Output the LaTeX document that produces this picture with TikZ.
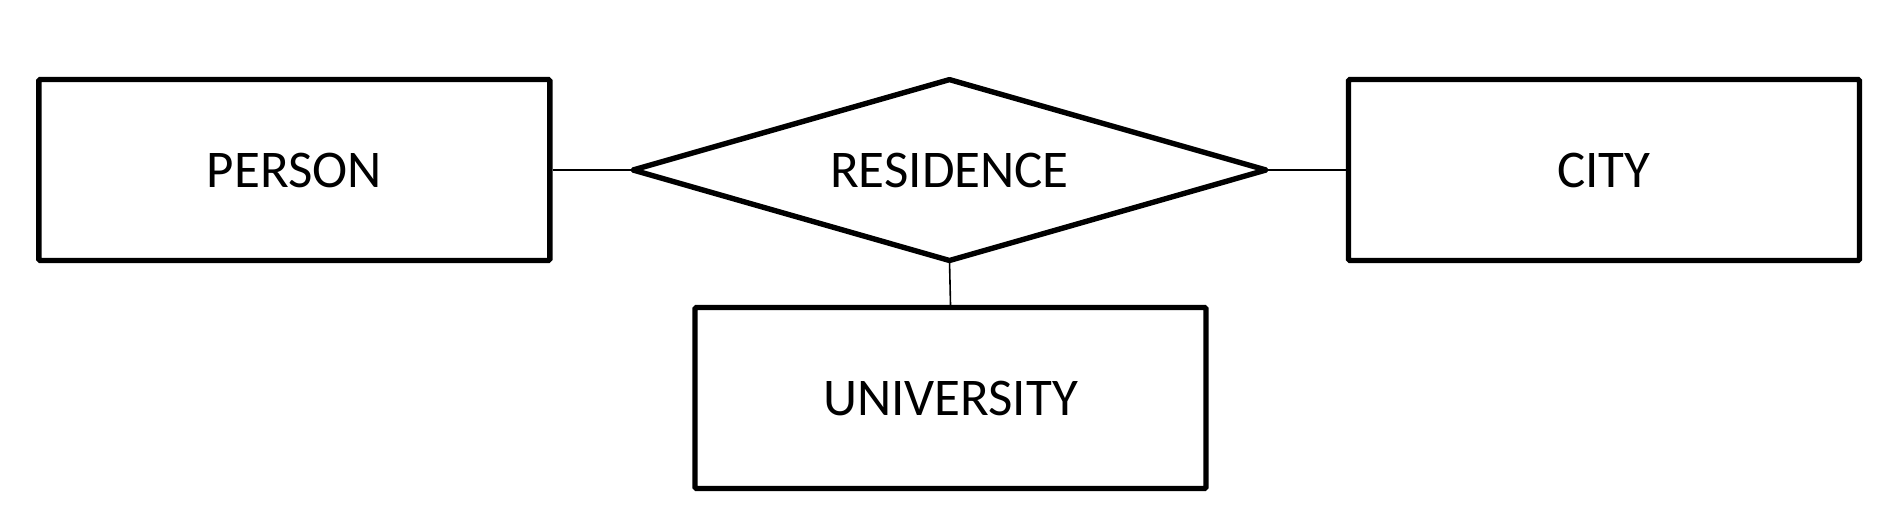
\documentclass[tikz,border=0pt]{standalone}
\usepackage{fontspec}
\setmainfont{Carlito}
\begin{document}
\begin{tikzpicture}[x=1pt,y=1pt,
  entity/.style={draw=black, line width=5.4pt, rounded corners=1.5pt, minimum width=511pt, minimum height=181pt, inner sep=0pt, font=\fontsize{53}{60}\selectfont},
  label/.style={inner sep=0pt, font=\fontsize{53}{60}\selectfont},
  relation/.style={draw=black, line width=5.4pt, line join=round},
  link/.style={draw=black, line width=1.6pt}]
\useasboundingbox (0,0) rectangle (1891,-522);
% faint smudge at top-left
\fill[black!9] (0,0) -- (175,0) .. controls (140,18) and (95,38) .. (45,46) .. controls (25,48) and (8,38) .. (0,28) -- cycle;
\node[entity] (person) at (294.3,-170) {PERSON};
\node[entity] (city) at (1604,-170) {CITY};
\node[entity] (uni) at (950.5,-398) {UNIVERSITY};
\coordinate (resW) at (633,-170);
\coordinate (resN) at (949.5,-79.6);
\coordinate (resE) at (1266,-170);
\coordinate (resS) at (949.5,-260.5);
\draw[relation] (resW) -- (resN) -- (resE) -- (resS) -- cycle;
\node[label] (res) at (949.5,-170) {RESIDENCE};
\draw[link] (person.east) -- (resW);
\draw[link] (resE) -- (city.west);
\draw[link] (resS) -- (uni.north);
\end{tikzpicture}
\end{document}
